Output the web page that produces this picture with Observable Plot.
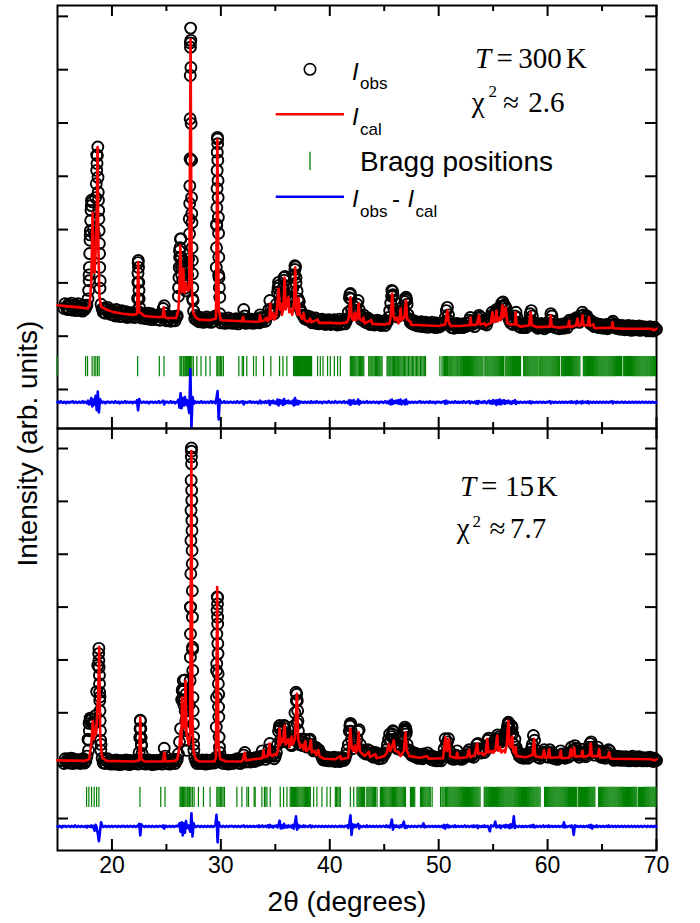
<!DOCTYPE html>
<html>
<head>
<meta charset="utf-8">
<script src="https://cdn.jsdelivr.net/npm/d3@7"></script>
<script src="https://cdn.jsdelivr.net/npm/@observablehq/plot@0.6"></script>
<style>
  body { margin: 0; background: #fff; }
  #fig { position: relative; width: 700px; height: 923px; }
  #fig svg { position: absolute; left: 0; }
</style>
</head>
<body>
<div id="fig"></div>
<script>
// ---- Powder diffraction refinement, T = 300 K (top) and T = 15 K (bottom) ----
// Intensities in arbitrary units; scans sampled every 0.1° in 2θ.
const scanStep = 0.1;
const obsStart = 15.6;   // first observed point
const diffStart = 15.0;  // first difference point

// Observed intensity, 300 K (15.6° … 70.0°)
const obs300 = [
  152,161,155,150,
  160,150,157,162,149,153,159,148,156,161,
  149,157,151,147,158,150,154,158,170,215,
  290,345,352,300,290,360,440,455,320,190,
  160,151,145,153,143,150,154,144,149,141,
  149,140,147,138,150,141,145,137,146,148,
  137,145,139,146,135,143,138,144,136,142,
  143,135,141,148,238,170,144,134,141,136,
  141,133,139,143,132,138,142,131,140,135,
  139,131,137,140,130,136,138,152,157,143,
  129,137,131,136,128,135,130,137,129,136,
  138,175,260,282,215,205,228,190,185,200,
  230,320,650,430,170,147,133,139,130,136,
  127,135,129,134,126,133,128,136,127,132,
  134,126,133,128,135,138,310,470,215,142,
  125,133,127,132,124,131,126,134,125,130,
  132,124,130,126,133,127,123,131,126,129,
  133,150,138,124,131,126,130,125,132,127,
  124,131,126,133,128,125,140,135,127,133,
  134,128,136,138,150,167,150,145,148,142,
  148,160,182,201,178,165,172,190,210,195,
  178,170,175,168,165,172,190,215,232,200,
  185,170,165,150,145,140,138,133,139,131,
  131,137,128,135,125,132,127,134,124,130,
  123,131,126,132,124,129,122,130,125,131,
  130,122,128,124,131,123,129,121,127,132,
  122,129,124,130,123,128,133,145,172,180,
  150,142,148,155,145,160,167,150,138,131,
  136,140,127,133,125,134,128,122,130,124,
  129,121,127,123,130,122,126,120,128,123,
  127,120,125,128,135,148,162,186,175,150,
  140,138,136,140,145,152,148,140,150,165,
  173,160,140,133,126,130,123,129,121,127,
  126,119,124,120,127,118,125,121,126,117,
  124,117,123,119,126,118,122,116,125,120,
  117,123,119,124,122,126,135,148,154,140,
  128,123,116,122,115,123,118,124,116,121,
  117,123,116,121,118,124,119,124,130,135,
  128,122,124,118,126,130,134,139,136,128,
  124,129,123,127,121,128,132,135,138,145,
  140,137,142,150,147,145,150,156,162,164,
  158,156,152,142,135,130,125,129,122,128,
  138,145,135,125,118,123,116,122,117,124,
  116,122,124,130,142,148,138,126,119,123,
  123,115,121,116,124,117,122,114,121,117,
  122,118,130,142,138,128,121,116,122,115,
  121,114,120,116,123,115,119,122,116,125,
  130,127,124,126,130,133,128,135,131,126,
  130,138,145,140,132,136,138,133,128,124,
  129,121,125,118,124,119,123,116,122,117,
  121,115,120,116,122,114,119,116,121,125,
  128,122,118,115,121,114,119,113,120,116,
  119,112,118,114,120,113,117,111,119,114,
  118,112,117,113,119,111,116,113,118,112,
  117,111,116,112,118,113,115,110,117,112,
  113
];

// Observed intensity, 15 K (15.6° … 70.0°)
const obs15 = [
  104,113,107,111,
  113,105,110,114,104,109,112,105,111,106,
  110,104,112,106,113,105,109,118,150,180,
  190,188,180,178,182,195,240,290,322,230,
  140,114,105,111,104,110,113,105,109,103,
  110,104,109,103,111,105,108,102,110,106,
  103,109,105,111,104,108,102,110,105,109,
  104,110,105,111,103,125,186,140,111,104,
  109,103,110,105,111,104,108,102,110,105,
  103,110,104,109,105,111,103,112,133,118,
  110,104,109,103,111,105,108,112,104,109,
  112,122,145,170,225,245,215,262,235,190,
  170,215,400,695,320,140,115,109,104,111,
  105,110,104,111,106,109,103,111,105,110,
  104,110,106,111,105,115,280,418,235,125,
  112,105,110,104,111,106,109,103,110,105,
  110,104,111,106,109,113,105,110,104,109,
  112,120,125,107,113,108,114,107,112,109,
  114,108,115,110,116,111,114,118,128,118,
  118,112,117,121,130,142,125,118,122,113,
  118,125,140,165,176,150,145,165,175,160,
  145,148,150,155,140,138,150,175,200,239,
  180,150,140,145,150,138,145,150,142,135,
  140,148,150,140,132,128,130,135,132,130,
  130,125,120,115,111,117,110,116,112,109,
  115,109,114,110,116,108,113,109,115,108,
  114,109,115,110,113,120,130,140,165,180,
  150,132,138,142,138,150,165,168,140,130,
  128,125,124,122,125,130,124,128,119,122,
  116,122,125,118,120,113,119,122,114,120,
  121,124,130,140,150,160,148,155,166,150,
  140,135,132,140,137,130,135,145,165,173,
  160,140,130,125,128,120,123,118,124,116,
  122,114,121,116,120,113,122,115,120,117,
  124,117,113,119,111,117,110,116,109,115,
  110,116,109,118,120,132,151,140,145,151,
  128,118,113,117,112,118,120,128,116,113,
  118,112,117,114,119,120,118,126,130,124,
  118,121,116,124,132,140,142,132,130,124,
  128,132,125,130,138,148,152,140,135,140,
  138,145,150,148,158,154,150,145,152,148,
  150,155,165,172,182,170,160,175,160,140,
  150,135,128,124,118,123,115,121,114,120,
  115,121,114,121,125,132,140,157,148,130,
  122,116,121,114,119,121,125,130,125,118,
  116,124,130,125,120,114,119,113,118,112,
  116,120,128,122,116,120,114,119,121,116,
  118,125,135,128,130,138,133,125,120,116,
  120,123,131,125,120,117,124,130,135,142,
  145,135,125,120,128,128,135,128,120,116,
  116,121,117,114,122,125,130,128,118,114,
  116,110,117,112,118,111,116,110,117,112,
  116,110,117,111,115,109,116,112,118,110,
  115,109,116,110,117,111,114,109,115,110,
  114,109,115,110,116,111,113,108,114,110,
  110
];

// Extra observed points on the steep peak flanks [2θ, intensity]
const peakPts300 = [
  [17.86,186],[17.9,204],[17.93,229],[17.96,255],[17.99,280],[18.02,298],[18.05,317],[18.08,336],[18.12,355],
  [18.56,386],[18.6,411],[18.63,424],[18.66,439],[18.72,398],[18.74,370],[18.76,355],[18.78,336],[18.82,298],
  [18.84,274],[18.86,255],[18.88,229],[18.92,204],
  [22.36,171],[22.38,201],[22.39,218],[22.42,242],[22.44,229],[22.46,201],[22.48,186],[22.52,154],
  [26.12,191],[26.15,210],[26.18,229],[26.22,248],[26.25,266],[26.32,283],[26.35,248],[26.38,229],
  [26.55,240],[26.58,230],[26.95,215],[27.03,245],
  [27.12,292],[27.14,349],[27.15,382],[27.17,433],[27.18,508],[27.19,589],[27.21,642],[27.22,678],
  [27.24,655],[27.25,604],[27.27,499],[27.28,430],[27.31,360],[27.33,330],[27.35,313],[27.36,266],
  [27.38,242],[27.39,217],[27.42,191],[27.45,167],
  [29.58,229],[29.6,266],[29.62,308],[29.63,341],[29.65,377],[29.66,411],[29.67,445],[29.69,473],
  [29.71,461],[29.72,430],[29.74,392],[29.75,360],[29.77,323],[29.79,293],[29.81,248],[29.83,210],
  [29.86,191],[29.9,173],
  [35.25,190],[35.32,195],[35.82,205],[35.88,212],[36.75,215],[36.8,225],[36.86,230],[36.9,210],[37.15,165],
  [41.85,178],[41.95,170],[45.68,175],[45.76,184],[45.8,178],[46.95,170],[47.05,168]
];
const peakPts15 = [
  [17.85,129],[17.88,148],[17.92,166],[17.96,185],
  [18.78,312],[18.8,299],[18.82,286],[18.85,271],[18.86,255],[18.87,239],[18.88,223],[18.9,204],
  [18.92,185],[18.94,166],[18.96,148],[18.98,129],
  [22.55,153],[22.58,170],[22.62,185],[22.65,170],[22.68,153],[22.72,138],[22.76,123],
  [26.45,242],[26.5,223],[26.55,261],[26.6,242],[26.65,223],[26.72,204],[26.78,185],[26.82,166],
  [26.86,148],[26.9,129],
  [27.18,261],[27.2,305],[27.21,349],[27.22,400],[27.24,463],[27.25,526],[27.26,583],[27.27,640],
  [27.29,684],[27.3,701],[27.31,671],[27.32,621],[27.33,602],[27.34,564],[27.35,545],[27.36,507],
  [27.37,482],[27.38,431],[27.39,381],[27.4,324],[27.42,280],[27.44,229],[27.46,204],[27.48,179],
  [27.5,154],[27.52,129],
  [29.58,173],[29.6,229],[29.62,293],[29.63,349],[29.65,394],[29.67,419],[29.69,406],[29.7,381],
  [29.71,368],[29.72,331],[29.74,312],[29.75,274],[29.77,255],[29.79,211],[29.81,192],[29.84,154],
  [29.87,135],[29.9,116],
  [35.36,172],[35.42,170],[35.82,176],[35.88,170],
  [36.93,223],[36.96,235],[37.02,223],[37.05,204],[37.08,185],[37.12,166],[37.16,148],
  [41.85,175],[41.93,178],[41.97,165],[45.75,160],[45.85,164],[46.88,168],[46.98,170],[47.03,165],
  [56.35,178],[56.45,180],[56.5,170],[56.75,172]
];

// Calculated profile [2θ, intensity]
const calc300 = [
  [15,158],[16,156],[17,154],[17.8,152],[17.95,158],[18.1,200],[18.22,332],[18.3,240],[18.4,219],
  [18.5,260],[18.6,320],[18.68,455],[18.76,260],[18.85,175],[19.0,155],[19.5,150],[20,146],[21,142],
  [22,140],[22.3,142],[22.41,239],[22.5,145],[23,138],[24,136],[24.65,136],[24.75,154],[24.85,137],
  [25,134],[25.9,134],[26.1,150],[26.2,190],[26.28,270],[26.36,200],[26.45,183],[26.55,227],[26.62,190],
  [26.7,182],[26.8,200],[26.9,190],[27.0,185],[27.1,190],[27.22,657],[27.32,200],[27.45,145],[27.7,135],
  [28,131],[29,130],[29.55,133],[29.68,469],[29.8,150],[30,130],[31,129],[31.9,128],[32.05,136],
  [32.15,128],[33,127],[33.5,127],[33.6,139],[33.7,128],[34.0,130],[34.2,135],[34.3,128],[34.45,132],
  [34.53,161],[34.62,133],[34.8,144],[34.9,131],[35.1,140],[35.3,189],[35.42,150],[35.55,161],
  [35.62,140],[35.75,155],[35.85,210],[35.95,150],[36.2,173],[36.28,145],[36.45,150],[36.55,140],
  [36.7,160],[36.83,229],[36.93,150],[37.05,140],[37.14,171],[37.25,140],[37.45,133],[37.6,143],
  [37.7,130],[38.0,127],[38.2,133],[38.3,126],[38.9,131],[39.0,125],[40,125],[41,124],[41.6,126],
  [41.75,135],[41.9,173],[42.0,135],[42.15,130],[42.3,144],[42.4,130],[42.55,138],[42.65,161],
  [42.75,132],[43.0,128],[43.1,135],[43.2,124],[43.8,130],[43.9,123],[45,122],[45.5,124],[45.62,140],
  [45.73,180],[45.85,138],[46.0,130],[46.2,135],[46.3,124],[46.42,132],[46.5,152],[46.6,130],
  [46.85,135],[47.0,167],[47.1,132],[47.4,127],[47.5,121],[48,121],[49,120],[50,119],[50.6,122],
  [50.7,135],[50.8,148],[50.9,128],[51.1,119],[52,119],[52.85,121],[52.93,135],[53.0,121],[53.5,122],
  [53.7,139],[53.8,122],[54.2,124],[54.3,120],[54.8,125],[54.93,145],[55.05,126],[55.2,130],
  [55.3,148],[55.4,128],[55.6,135],[55.7,130],[55.85,158],[55.95,135],[56.15,154],[56.3,125],
  [56.5,122],[57.0,122],[57.07,145],[57.15,122],[57.5,118],[58.3,120],[58.45,145],[58.55,121],
  [59,117],[60.2,118],[60.29,139],[60.38,118],[61,116],[61.9,118],[61.97,129],[62.05,117],[62.6,120],
  [62.74,133],[62.85,119],[63.1,122],[63.2,139],[63.3,120],[63.7,121],[63.8,136],[63.9,119],
  [64.2,122],[64.3,115],[65.9,116],[65.96,126],[66.05,115],[67,114],[69.5,114],[69.75,111],
  [69.85,112],[70,114]
];
const calc15 = [
  [15,110],[17.5,109],[17.9,112],[18.1,140],[18.25,185],[18.33,150],[18.45,170],[18.55,160],
  [18.65,200],[18.75,240],[18.83,325],[18.93,150],[19.1,115],[19.5,109],[22,108],[22.5,110],
  [22.6,191],[22.7,112],[23,108],[24.7,108],[24.82,125],[24.92,108],[25.8,109],[26.0,112],[26.2,135],
  [26.3,166],[26.37,140],[26.44,229],[26.52,175],[26.6,199],[26.67,170],[26.75,261],[26.85,160],
  [26.95,150],[27.05,140],[27.18,160],[27.29,695],[27.4,170],[27.5,125],[27.7,112],[28,108],
  [29.4,108],[29.55,115],[29.66,438],[29.78,140],[29.95,112],[30.5,108],[31.9,108],[32.0,110],
  [32.2,125],[32.3,110],[33,112],[33.8,114],[33.92,129],[34.0,116],[34.3,118],[34.47,142],[34.55,120],
  [34.75,118],[34.9,122],[35.1,120],[35.25,130],[35.39,170],[35.47,140],[35.6,150],[35.7,145],
  [35.85,176],[35.95,140],[36.2,150],[36.3,135],[36.5,155],[36.6,140],[36.8,150],[36.98,236],
  [37.1,150],[37.3,135],[37.5,140],[37.6,130],[37.75,146],[37.85,128],[38.1,132],[38.27,148],
  [38.35,125],[38.6,128],[38.75,120],[38.97,130],[39.05,118],[39.5,113],[40.5,112],[40.97,118],
  [41.05,112],[41.7,115],[41.89,170],[42.0,135],[42.15,128],[42.3,138],[42.4,125],[42.55,135],
  [42.66,163],[42.75,128],[43.0,122],[43.2,118],[43.58,126],[43.7,116],[44.19,122],[44.3,114],
  [45.0,118],[45.25,125],[45.42,141],[45.55,128],[45.7,135],[45.88,148],[46.0,128],[46.3,126],
  [46.5,118],[46.8,128],[46.95,163],[47.05,130],[47.3,118],[48.2,115],[48.94,118],[49.1,113],
  [50.4,114],[50.63,154],[50.75,128],[50.94,150],[51.05,118],[51.6,114],[51.7,125],[51.8,114],
  [52.6,116],[52.78,130],[52.9,116],[53.3,120],[53.54,142],[53.65,122],[54.0,124],[54.1,120],
  [54.3,122],[54.46,151],[54.56,125],[54.9,128],[55.0,124],[55.2,130],[55.38,157],[55.48,128],
  [55.65,135],[55.75,125],[56.0,130],[56.1,125],[56.25,140],[56.4,185],[56.5,140],[56.6,135],
  [56.76,155],[56.85,128],[57.0,123],[57.07,135],[57.15,118],[58.0,116],[58.6,120],[58.76,151],
  [58.86,118],[59.5,115],[59.68,129],[59.78,115],[60.0,116],[60.14,131],[60.24,115],[61.1,116],
  [61.21,128],[61.3,114],[62.0,115],[62.13,131],[62.22,118],[62.35,122],[62.44,134],[62.54,117],
  [63.1,118],[63.2,128],[63.3,116],[63.85,120],[63.97,142],[64.07,118],[64.6,118],[64.74,131],
  [64.84,115],[65.5,116],[65.66,125],[65.76,114],[66,113],[69.5,112],[69.8,110],[70,112]
];

// Difference I_obs - I_cal (15.0° … 70.0°), drawn about its own zero line
const diff300 = [
  0,1,-1,2,0,-1,1,0,-2,1,  0,-1,1,0,2,-1,0,1,-1,0,  1,-1,0,2,-1,1,0,-2,3,-4,
  -3,8,-8,5,-4,12,-15,20,-19,6,  2,-1,1,0,-2,1,0,1,-1,0,  1,0,-1,2,0,-1,1,-2,0,1,
  -1,0,2,-1,1,0,-1,1,0,-2,  1,0,-1,4,-15,6,1,-1,0,1,  0,-1,1,0,-2,1,0,1,-1,0,
  1,-1,0,2,-1,0,1,3,-4,1,  0,1,-1,0,2,-1,0,1,-2,0,  1,5,-10,17,-11,8,-6,10,-5,4,
  -8,-20,62,-47,10,-3,2,-1,0,1,  -1,0,2,-1,0,1,-1,0,1,-1,  0,2,-1,1,0,-2,8,21,-32,5,
  1,-1,0,2,-1,0,1,-1,0,1,  0,-1,1,0,-1,2,0,-1,1,0,  2,-4,1,0,-1,1,0,2,-1,0,
  1,-1,0,1,-2,0,3,-2,1,0,  -1,2,-1,1,3,-5,2,-1,3,-2,  1,-3,5,-6,4,-2,3,-5,6,-3,
  2,-1,3,-2,1,-2,3,-6,8,-4,  3,-4,2,-1,1,0,-1,1,0,-1,  1,0,-1,2,-1,0,1,-1,2,0,
  -1,1,0,-2,1,0,1,-1,0,2,  0,-1,1,0,-1,2,0,-1,1,0,  1,-1,0,2,-1,0,1,-2,4,-5,
  3,-2,4,-3,1,-2,5,-4,2,-1,  0,1,-1,0,2,-1,0,1,-1,0,  1,0,-1,1,0,-2,1,0,1,-1,
  0,2,-1,1,-2,3,-4,5,-3,2,  -1,3,-2,4,-3,5,-4,2,3,-4,  5,-3,1,0,-1,1,0,-1,1,0,
  -1,1,0,2,-1,0,1,-1,0,1,  0,-1,2,0,-1,1,0,-2,1,0,  1,0,-1,1,0,2,-3,3,-2,1,
  0,-1,1,0,-1,2,0,-1,1,-1,  0,1,-1,2,0,-1,1,0,2,-2,  1,0,-1,1,-2,2,-3,2,0,-1,
  1,-1,2,0,-2,1,3,-2,2,-3,  4,-2,3,-5,4,-3,5,-4,3,-2,  4,-3,2,-1,3,-2,1,-3,2,-1,
  4,-3,1,0,-1,1,0,-1,0,1,  -1,0,1,-1,2,-2,1,0,-1,0,  1,-1,0,1,0,-1,1,0,-1,0,
  1,0,2,-2,1,0,-1,1,0,-1,  0,1,-1,0,1,-1,0,1,-1,0,  1,-1,2,-1,0,1,-2,2,-1,0,
  1,-2,2,-1,0,1,-1,2,-2,1,  0,-1,1,0,-1,1,0,-1,1,0,  -1,1,0,-1,1,0,-1,1,0,2,
  -2,1,0,-1,1,0,-1,0,1,0,  -1,1,0,-1,0,1,-1,0,1,-1,  0,1,-1,0,1,-1,0,1,0,-1,
  1,0,-1,1,0,-1,1,0,-1,0,  0
];
const diff15 = [
  0,-1,1,0,-2,1,0,1,-1,0,  1,0,-1,1,0,-1,2,0,-1,1,  0,-1,1,0,-1,0,1,-2,1,0,
  -1,2,-2,1,-8,3,-2,-14,-28,-10,  8,2,-1,0,1,-1,0,1,-1,0,  1,-1,0,1,0,-1,1,0,-1,1,
  0,1,-1,0,1,-1,0,1,0,-1,  1,0,-1,1,0,5,-17,4,1,0,  -1,1,0,-1,1,0,-1,1,0,-1,
  0,1,-1,0,1,0,-1,2,-4,1,  1,-1,0,1,-1,0,1,-1,0,1,  0,2,6,-10,8,-17,6,-12,10,-3,
  2,-4,-10,25,-19,6,1,-1,0,1,  0,-1,1,0,-1,1,0,-1,1,0,  -1,1,0,-1,1,2,22,-30,8,1,
  0,-1,1,0,-1,1,0,-1,1,0,  1,0,-1,1,0,-1,1,0,-1,1,  0,2,-1,0,1,-1,0,1,-1,0,
  1,-1,0,1,-1,2,-1,0,2,-1,  0,1,-1,2,-2,3,-1,1,-2,1,  0,2,-2,3,11,-4,2,-3,5,-2,
  1,-2,2,-1,1,-2,3,-4,6,19,  -6,3,-2,1,0,-1,2,-1,1,0,  -1,1,2,-2,1,0,-1,1,0,-1,
  1,0,-1,1,0,-1,1,0,-1,1,  0,-1,1,0,-1,1,0,-1,0,1,  -1,1,0,-1,1,0,2,-3,6,21,
  -16,4,-2,3,-1,2,5,-4,1,0,  -1,1,0,-1,2,-1,0,1,-1,0,  1,-1,0,1,-1,0,1,-1,0,1,
  0,-1,2,-1,1,-2,3,13,-6,2,  -1,2,-1,1,-2,2,-1,3,9,-3,  1,-2,1,0,-1,1,0,-1,1,0,
  -1,1,0,1,-1,0,6,-2,1,-1,  0,1,-1,0,1,-1,0,1,-1,0,  1,-1,0,1,-2,3,-4,2,3,-2,
  1,-1,0,1,-1,2,-1,0,1,-1,  0,1,-1,0,2,-1,0,1,-1,0,  1,-1,2,-1,0,2,-3,1,0,-1,
  1,-1,2,-1,0,1,-3,-9,2,1,  0,2,9,-2,1,-1,2,-3,1,0,  2,-2,3,-1,2,-3,4,-2,1,19,
  -3,1,0,-1,1,0,-1,1,-1,0,  1,-1,0,1,-1,2,-1,3,-2,0,  1,-1,0,1,-1,0,2,-1,0,1,
  -1,2,-1,0,1,-1,0,1,-1,0,  1,-1,0,1,-1,8,-2,1,-1,0,  1,-1,2,-1,-16,2,-1,1,0,-1,
  1,0,-1,1,-1,0,1,-1,2,-2,  3,-4,1,0,-1,2,-1,0,1,-1,  0,1,-1,0,1,-1,2,-1,0,1,
  -1,0,1,-1,0,1,-1,0,1,-1,  0,1,-1,0,1,-1,0,1,-1,0,  1,-1,0,1,-1,0,1,-1,0,1,
  0,-1,1,0,-1,1,0,-1,1,0,  0
];
const diffZero300 = -24;
const diffZero15 = -15;

// Bragg reflection positions (2θ)
const bragg300 = [
  14.98,17.58,17.76,18.18,18.37,18.52,18.68,18.83,22.36,24.35,24.78,
  26.25,26.33,26.41,26.55,26.63,26.74,26.83,26.92,27.03,27.11,27.22,27.33,27.47,
  27.79,28.18,28.62,29.01,29.63,29.72,29.84,29.96,30.08,30.23,
  31.65,31.96,32.08,32.38,33.0,33.24,33.92,34.59,35.39,35.7,36.06,
  36.68,36.77,36.86,36.95,37.04,37.13,37.23,37.32,37.41,37.5,37.6,37.69,37.78,37.87,37.96,
  38.05,38.15,38.24,38.33,38.88,39.13,39.38,39.8,40.05,40.42,40.72,40.97,
  41.89,41.99,42.1,42.2,42.29,42.4,42.5,42.61,42.72,42.82,42.93,43.03,43.12,
  43.58,43.68,43.79,43.88,43.97,44.08,44.19,44.3,44.4,44.5,44.59,44.7,44.8,
  45.26,45.35,45.45,45.54,45.63,45.74,45.85,45.95,46.06,46.15,46.24,46.33,46.43,46.53,
  46.64,46.75,46.86,46.98,47.1,47.22,47.35,47.47,47.59,47.71,47.84,47.96,48.08,48.2,
  48.33,48.45,48.57,48.68,48.79,
  50.11,50.3,50.42,50.53,50.63,50.72,50.82,50.93,51.02,51.11,51.21,51.3,51.4,51.5,51.6,
  51.7,51.79,51.88,51.98,52.08,52.17,52.27,52.36,52.46,52.55,52.65,52.74,52.84,52.93,
  53.03,53.12,53.22,53.31,53.41,53.5,53.6,53.69,53.79,53.88,53.98,54.07,54.24,54.33,
  54.43,54.52,54.62,54.71,54.81,54.9,55.0,55.09,55.19,55.28,55.38,55.47,55.57,55.66,
  55.76,55.85,55.95,56.1,56.2,56.29,56.39,56.48,56.58,56.67,56.77,56.86,56.96,57.05,
  57.15,57.24,57.34,57.43,57.52,57.8,57.9,57.99,58.09,58.18,58.28,58.37,58.47,58.56,
  58.66,58.75,58.85,58.94,59.04,59.13,59.28,59.37,59.47,59.56,59.66,59.75,59.85,59.94,
  60.04,60.13,60.23,60.32,60.42,60.51,60.61,60.7,60.8,60.89,60.99,61.08,61.26,61.35,
  61.45,61.54,61.64,61.73,61.83,61.92,62.02,62.11,62.21,62.3,62.4,62.49,62.59,62.68,
  62.78,62.87,62.97,63.28,63.37,63.47,63.56,63.66,63.75,63.85,63.94,64.04,64.13,64.23,
  64.32,64.42,64.51,64.61,64.7,64.8,64.89,64.99,65.08,65.18,65.27,65.37,65.46,65.56,
  65.65,65.75,65.84,65.94,66.03,66.13,66.22,66.32,66.41,66.51,66.6,66.7,66.79,66.95,
  67.05,67.14,67.24,67.33,67.43,67.52,67.62,67.71,67.81,67.9,68.0,68.09,68.19,68.28,
  68.38,68.47,68.57,68.66,68.76,68.85,68.95,69.04,69.14,69.23,69.33,69.42,69.52,69.61,
  69.71,69.8,69.9
];
const bragg15 = [
  17.67,17.88,18.13,18.37,18.59,18.8,22.57,24.48,24.87,
  26.25,26.33,26.41,26.48,26.56,26.63,26.71,26.8,26.92,27.0,27.11,27.24,27.38,27.54,
  27.94,28.4,29.01,29.63,29.73,29.84,29.96,30.08,30.2,30.33,
  31.47,31.93,32.39,32.54,33.06,33.15,33.77,34.0,34.07,34.23,34.53,35.45,35.76,36.07,
  36.37,36.47,36.57,36.67,36.76,36.86,36.96,37.06,37.16,37.26,37.36,37.46,37.56,37.66,
  37.76,37.86,37.96,38.06,38.16,38.21,38.52,38.82,39.28,39.74,40.05,
  40.51,40.62,40.74,40.86,40.97,41.89,42.2,42.5,42.6,42.7,42.8,42.9,43.0,43.1,43.2,
  43.4,43.5,43.6,43.7,43.8,43.9,44.0,44.1,44.2,44.34,
  44.65,44.75,44.85,44.95,45.05,45.15,45.25,45.35,45.45,45.55,45.65,45.75,45.85,45.95,
  46.05,46.15,46.25,46.35,46.45,46.55,46.65,46.75,46.85,46.95,
  47.41,47.5,47.6,47.7,47.8,48.33,48.43,48.53,48.63,48.73,48.83,48.93,49.03,49.13,49.23,49.4,
  50.17,50.3,50.4,50.5,50.63,50.73,50.83,50.93,51.03,51.13,51.22,51.32,51.41,51.51,51.6,
  51.7,51.79,51.89,51.98,52.08,52.17,52.27,52.36,52.46,52.55,52.65,52.74,52.84,52.93,
  53.03,53.12,53.22,53.31,53.41,53.5,53.6,53.69,53.8,54.18,54.27,54.37,54.46,54.56,
  54.65,54.75,54.84,54.94,55.03,55.13,55.22,55.32,55.41,55.51,55.6,55.7,55.79,55.89,
  55.98,56.08,56.17,56.27,56.36,56.46,56.55,56.65,56.74,56.84,56.93,57.03,57.12,57.22,
  57.31,57.41,57.5,57.6,57.69,57.79,57.88,57.98,58.07,58.17,58.26,58.36,58.45,58.55,
  58.64,58.74,58.83,58.93,59.02,59.12,59.21,59.32,59.72,59.82,59.91,60.01,60.1,60.2,
  60.29,60.39,60.48,60.58,60.67,60.77,60.86,60.96,61.05,61.15,61.24,61.34,61.43,61.53,
  61.62,61.72,61.81,61.91,62.0,62.1,62.19,62.29,62.38,62.48,62.57,62.67,62.82,62.92,
  63.01,63.11,63.2,63.3,63.39,63.49,63.58,63.68,63.77,63.87,63.96,64.06,64.15,64.25,
  64.34,64.68,64.77,64.87,64.96,65.06,65.15,65.25,65.34,65.44,65.53,65.63,65.72,65.82,
  65.91,66.01,66.1,66.2,66.29,66.39,66.48,66.58,66.67,66.77,66.86,66.96,67.05,67.15,
  67.24,67.34,67.43,67.53,67.62,67.72,67.81,67.91,68.0,68.1,68.19,68.34,68.44,68.53,
  68.63,68.72,68.82,68.91,69.01,69.1,69.2,69.29,69.39,69.48,69.58,69.67,69.77,69.86,69.95
];
// Vertical extent of the Bragg tick rows
const braggRow300 = [24, 62];
const braggRow15 = [21, 59];

// Axis ticks
const yTicks = [0, 100, 200, 300, 400, 500, 600, 700];
const xMajor = [20, 30, 40, 50, 60, 70];
const xMinor = [25, 35, 45, 55, 65];

// ---- layout ----
const W = 700, ML = 57, MR = 44;
const SANS = "'Liberation Sans', Arial, Helvetica, sans-serif";
const SERIF = "'Liberation Serif', 'Times New Roman', Times, serif";
const INK = "#000";

function scan(values, start) {
  return values.map((v, i) => ({x: +(start + i * scanStep).toFixed(2), y: v}));
}

function panel(o) {
  const innerW = W - ML - MR;
  const innerH = o.height - o.mt - o.mb;
  const dots = scan(o.obs, obsStart)
    .concat(o.peaks.map(([x, y]) => ({x, y})))
    .sort((a, b) => a.x - b.x);
  const tk = {stroke: INK, strokeWidth: 2};
  const marks = [
    Plot.frame({stroke: INK, strokeWidth: 2}),
    Plot.tickY(yTicks, {y: d => d, insetRight: innerW - 11, ...tk}),
    Plot.tickY(yTicks, {y: d => d, insetLeft: innerW - 11, ...tk}),
    Plot.tickX(xMajor, {x: d => d, insetTop: innerH - 11, ...tk}),
    Plot.tickX(xMajor, {x: d => d, insetBottom: innerH - 11, ...tk}),
    Plot.tickX(xMinor, {x: d => d, insetTop: innerH - 6, ...tk}),
    Plot.tickX(xMinor, {x: d => d, insetBottom: innerH - 6, ...tk}),
    // open circles: overlapping rings merge into the dense observed band
    Plot.dot(dots, {x: "x", y: "y", r: 5.5, fill: "none", stroke: INK, strokeWidth: 1.9}),
    Plot.line(o.calc, {x: d => d[0], y: d => d[1], stroke: "#ff0000", strokeWidth: 2.6}),
    Plot.ruleX(o.bragg, {x: d => d, y1: o.row[0], y2: o.row[1], stroke: "#008000", strokeWidth: 1.2}),
    Plot.line(scan(o.diff, diffStart), {x: "x", y: d => d.y + o.zero, stroke: "#0000ff", strokeWidth: 2.6})
  ];
  if (o.xLabels) {
    marks.push(Plot.text(xMajor, {
      x: d => d, frameAnchor: "bottom", dy: 22, text: d => String(d),
      fontSize: 23, fontFamily: SANS, fill: INK
    }));
  }
  return Plot.plot({
    width: W, height: o.height,
    marginLeft: ML, marginRight: MR, marginTop: o.mt, marginBottom: o.mb,
    x: {domain: [15, 70], axis: null},
    y: {domain: o.yDomain, axis: null},
    style: {fontFamily: SANS, background: "transparent", overflow: "visible"},
    marks
  });
}

function label(svg, x, y, str, size, opt = {}) {
  return d3.select(svg).append("text")
    .attr("x", x).attr("y", y)
    .attr("font-family", opt.family || SANS)
    .attr("font-size", size)
    .attr("font-style", opt.italic ? "italic" : "normal")
    .attr("text-anchor", opt.anchor || "start")
    .attr("fill", INK)
    .text(str);
}

const fig = document.getElementById("fig");

// Top panel: 300 K
const plot300 = panel({
  height: 429, mt: 5, mb: 1, yDomain: [-73.2, 720.4],
  obs: obs300, peaks: peakPts300, calc: calc300, diff: diff300, zero: diffZero300,
  bragg: bragg300, row: braggRow300, xLabels: false
});
plot300.style.top = "0px";
fig.appendChild(plot300);

// Bottom panel: 15 K
const plot15 = panel({
  height: 496, mt: 1, mb: 73, yDomain: [-60.5, 737.9],
  obs: obs15, peaks: peakPts15, calc: calc15, diff: diff15, zero: diffZero15,
  bragg: bragg15, row: braggRow15, xLabels: true
});
plot15.style.top = "427px";
fig.appendChild(plot15);

// Legend (top panel)
{
  const s = d3.select(plot300);
  s.append("circle").attr("cx", 310).attr("cy", 69.3).attr("r", 5.7)
    .attr("fill", "white").attr("stroke", INK).attr("stroke-width", 1.6);
  label(plot300, 352, 80, "I", 24, {italic: true});
  label(plot300, 360, 89.3, "obs", 17);

  s.append("line").attr("x1", 275.7).attr("x2", 344).attr("y1", 114.3).attr("y2", 114.3)
    .attr("stroke", "#ff0000").attr("stroke-width", 2.6);
  label(plot300, 352, 125, "I", 24, {italic: true});
  label(plot300, 360, 135, "cal", 17);

  s.append("line").attr("x1", 310).attr("x2", 310).attr("y1", 151.7).attr("y2", 170)
    .attr("stroke", "#008000").attr("stroke-width", 1.3);
  label(plot300, 360, 170.7, "Bragg positions", 28);

  s.append("line").attr("x1", 275.7).attr("x2", 344).attr("y1", 196.7).attr("y2", 196.7)
    .attr("stroke", "#0000ff").attr("stroke-width", 2.6);
  label(plot300, 352, 206.7, "I", 24, {italic: true});
  label(plot300, 360, 216.7, "obs", 17);
  label(plot300, 392, 206.7, "-", 24);
  label(plot300, 407.5, 206.7, "I", 24, {italic: true});
  label(plot300, 415.5, 216.7, "cal", 17);

  // Temperature and goodness of fit
  label(plot300, 475, 68.3, "T", 29, {family: SERIF, italic: true});
  label(plot300, 496.5, 68.3, "=", 29, {family: SERIF});
  label(plot300, 518.3, 68.3, "300", 29, {family: SERIF});
  label(plot300, 566, 68.3, "K", 29, {family: SERIF});
  label(plot300, 471.7, 111.7, "χ", 29, {family: SERIF});
  label(plot300, 488.5, 96.7, "2", 17, {family: SERIF});
  label(plot300, 503, 111.7, "≈", 29, {family: SERIF});
  label(plot300, 528.3, 111.7, "2.6", 29, {family: SERIF});
}

// Bottom panel annotation and x-axis title
{
  const dy = -427;
  label(plot15, 460, 496 + dy, "T", 29, {family: SERIF, italic: true});
  label(plot15, 481, 496 + dy, "=", 29, {family: SERIF});
  label(plot15, 505, 496 + dy, "15", 29, {family: SERIF});
  label(plot15, 536.7, 496 + dy, "K", 29, {family: SERIF});
  label(plot15, 456.7, 538.3 + dy, "χ", 29, {family: SERIF});
  label(plot15, 472.5, 526.7 + dy, "2", 17, {family: SERIF});
  label(plot15, 489.5, 538.3 + dy, "≈", 29, {family: SERIF});
  label(plot15, 510, 538.3 + dy, "7.7", 29, {family: SERIF});

  label(plot15, 347, 911 + dy, "2θ (degrees)", 28, {anchor: "middle"});
}

// Shared y-axis title spanning both panels
{
  const svg = d3.create("svg").attr("width", 60).attr("height", 923)
    .style("top", "0px").style("pointer-events", "none");
  svg.append("text")
    .attr("transform", "translate(37,443.5) rotate(-90)")
    .attr("text-anchor", "middle")
    .attr("font-family", SANS).attr("font-size", 28).attr("fill", INK)
    .text("Intensity (arb. units)");
  fig.appendChild(svg.node());
}
</script>
</body>
</html>
